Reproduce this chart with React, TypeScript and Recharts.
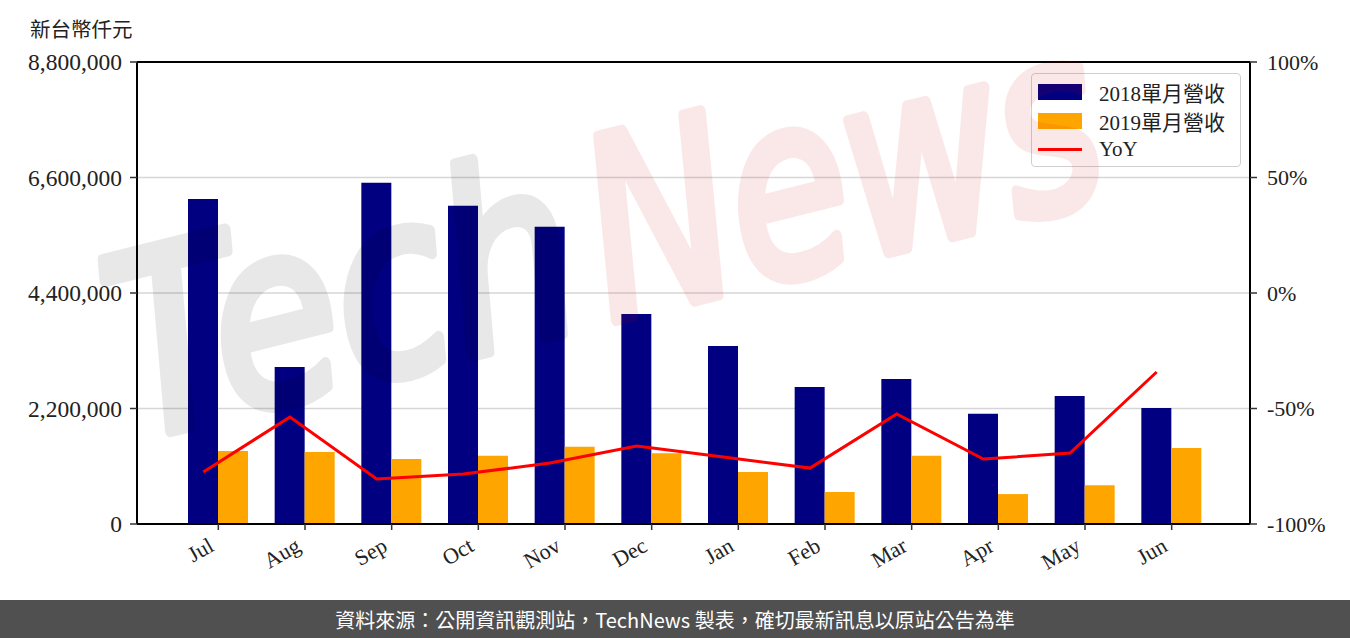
import { ComposedChart, Bar, Line, XAxis, YAxis, CartesianGrid, ReferenceLine } from "recharts"

const months = ["Jul", "Aug", "Sep", "Oct", "Nov", "Dec", "Jan", "Feb", "Mar", "Apr", "May", "Jun"]
const rev2018 = [6190000, 2990000, 6500000, 6060000, 5660000, 4000000, 3390000, 2610000, 2760000, 2100000, 2440000, 2210000]
const rev2019 = [1390000, 1370000, 1240000, 1300000, 1470000, 1350000, 990000, 610000, 1300000, 570000, 740000, 1450000]
const yoy = [-77.5, -53.7, -80.5, -78.4, -73.6, -66.2, -71, -75.8, -52.4, -71.9, -69.3, -34.2]
const leftTicks = [0, 2200000, 4400000, 6600000, 8800000]
const rightTicks = [-100, -50, 0, 50, 100]

const seriesInfo = [
  { name: "2018單月營收", color: "#000080", kind: "bar" },
  { name: "2019單月營收", color: "#ffa500", kind: "bar" },
  { name: "YoY", color: "#ff0000", kind: "line" },
]

const data = months.map((m, i) => ({ month: m, r18: rev2018[i], r19: rev2019[i], yoy: yoy[i] }))

const serif = "'Liberation Serif', 'Noto Sans CJK TC', serif"

function MonthTick(props: any) {
  const { x, y, payload } = props
  const bx = x - 3
  const by = y + 20
  return (
    <text x={bx} y={by} transform={`rotate(-30, ${bx}, ${by})`} textAnchor="end" fontSize={22} fontFamily={serif} fill="#222">
      {payload.value}
    </text>
  )
}

// faint brush-like watermark over the plot
function Watermark() {
  const common = {
    fontSize: 250,
    fontStyle: "italic" as const,
    fontFamily: "'DejaVu Sans', sans-serif",
    strokeWidth: 12,
    strokeLinejoin: "round" as const,
    lengthAdjust: "spacingAndGlyphs" as const,
  }
  return (
    <svg width={1350} height={600} style={{ position: "absolute", left: 0, top: 0, pointerEvents: "none" }}>
      <g transform="rotate(-14 135 440)">
        <g opacity={0.085}>
          <text x={135} y={440} fill="#000" stroke="#000" textLength={470} {...common}>
            Tech
          </text>
        </g>
        <g opacity={0.085}>
          <text x={625} y={440} fill="#d20000" stroke="#d20000" textLength={520} {...common}>
            News
          </text>
        </g>
      </g>
    </svg>
  )
}

export default function App() {
  return (
    <div style={{ position: "absolute", left: 0, top: 0, width: 1350, height: 638, background: "#fff" }}>
      <div style={{ position: "absolute", left: 30, top: 13, fontSize: 20.5, fontFamily: "'Noto Sans CJK TC', sans-serif", color: "#222" }}>
        新台幣仟元
      </div>
      <ComposedChart width={1350} height={600} data={data} margin={{ top: 62, right: 0, bottom: 16, left: 0 }} barGap={0}>
        <CartesianGrid vertical={false} stroke="#d6d6d6" strokeWidth={1.5} yAxisId="left" />
        <XAxis
          xAxisId="main"
          dataKey="month"
          height={60}
          padding={{ left: 38, right: 35 }}
          axisLine={{ stroke: "#000", strokeWidth: 2 }}
          tickLine={{ stroke: "#333", strokeWidth: 1.5 }}
          tickSize={6}
          tickMargin={0}
          tick={<MonthTick />}
          interval={0}
        />
        <XAxis xAxisId="line" dataKey="month" hide orientation="top" height={0} padding={{ left: 23, right: 50 }} />
        <YAxis
          yAxisId="left"
          width={137}
          domain={[0, 8800000]}
          ticks={leftTicks}
          tickFormatter={(v: number) => v.toLocaleString("en-US")}
          axisLine={{ stroke: "#000", strokeWidth: 2 }}
          tickLine={{ stroke: "#333", strokeWidth: 1.5 }}
          tickSize={7}
          tickMargin={8}
          tick={{ fontSize: 23.5, fontFamily: serif, fill: "#222" }}
          interval={0}
        />
        <YAxis
          yAxisId="right"
          orientation="right"
          width={100}
          domain={[-100, 100]}
          ticks={rightTicks}
          tickFormatter={(v: number) => `${v}%`}
          axisLine={{ stroke: "#000", strokeWidth: 2 }}
          tickLine={{ stroke: "#333", strokeWidth: 1.5 }}
          tickSize={7}
          tickMargin={10}
          tick={{ fontSize: 22, fontFamily: serif, fill: "#222", textAnchor: "start" }}
          interval={0}
        />
        <ReferenceLine yAxisId="left" xAxisId="main" y={8800000} stroke="#000" strokeWidth={2} />
        <Bar xAxisId="main" yAxisId="left" dataKey="r18" fill={seriesInfo[0].color} barSize={30} isAnimationActive={false} />
        <Bar xAxisId="main" yAxisId="left" dataKey="r19" fill={seriesInfo[1].color} barSize={30} isAnimationActive={false} />
        <Line xAxisId="line" yAxisId="right" dataKey="yoy" stroke={seriesInfo[2].color} strokeWidth={3} dot={false} isAnimationActive={false} />
      </ComposedChart>

      <div
        style={{
          position: "absolute",
          left: 1031,
          top: 73,
          width: 208,
          height: 92,
          border: "1.5px solid #cfcfcf",
          borderRadius: 4,
          background: "rgba(255,255,255,0.8)",
          fontFamily: serif,
          fontSize: 21,
          color: "#222",
        }}
      >
        {seriesInfo.map((s, i) => (
          <div key={s.name} style={{ position: "absolute", left: 6, top: 3 + i * 29, height: 29, display: "flex", alignItems: "center" }}>
            {s.kind === "bar" ? (
              <div style={{ width: 44, height: 16, background: s.color }} />
            ) : (
              <div style={{ width: 44, height: 3, background: s.color }} />
            )}
            <span style={{ marginLeft: 17 }}>{s.name}</span>
          </div>
        ))}
      </div>

      <Watermark />

      <div
        style={{
          position: "absolute",
          left: 0,
          top: 600,
          width: 1350,
          height: 38,
          background: "#505050",
          color: "#fff",
          fontSize: 20,
          fontFamily: "'Noto Sans CJK TC', sans-serif",
          display: "flex",
          alignItems: "center",
          justifyContent: "center",
        }}
      >
        資料來源：公開資訊觀測站，TechNews 製表，確切最新訊息以原站公告為準
      </div>
    </div>
  )
}
